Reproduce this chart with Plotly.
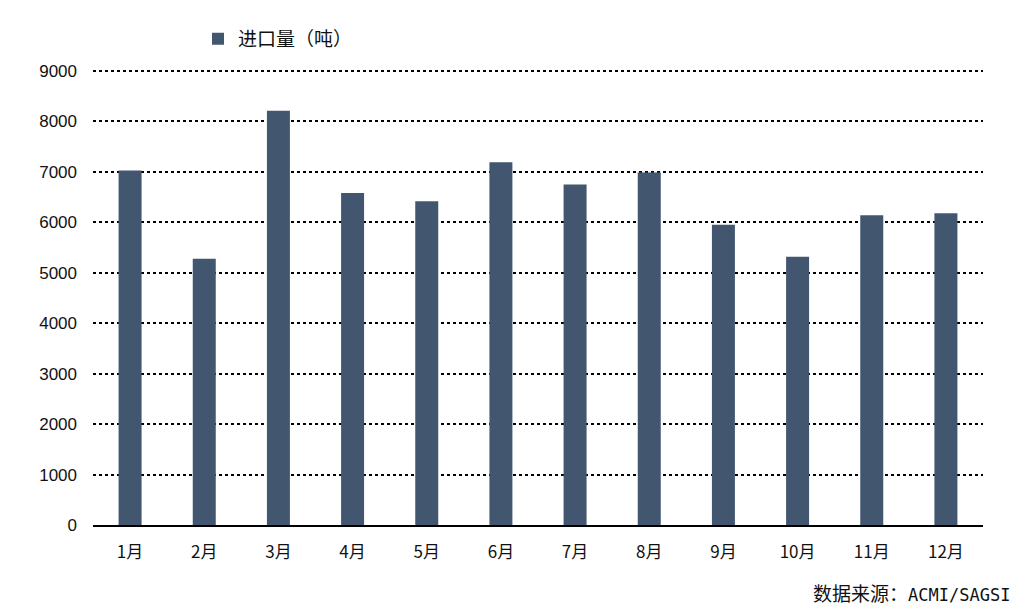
import plotly.graph_objects as go

months = ["1月", "2月", "3月", "4月", "5月", "6月", "7月", "8月", "9月", "10月", "11月", "12月"]
imports_t = [7030, 5280, 8210, 6580, 6420, 7190, 6750, 6990, 5950, 5320, 6140, 6180]
series_name = "进口量（吨）"
y_ticks = [0, 1000, 2000, 3000, 4000, 5000, 6000, 7000, 8000, 9000]
source_cn = "数据来源："
source_en = "ACMI/SAGSI"

fig = go.Figure()
fig.add_trace(go.Bar(
    x=months, y=imports_t, name=series_name,
    marker=dict(color="#43566f", line=dict(width=0)),
    width=0.31,
))

fig.update_layout(
    width=1008, height=600,
    margin=dict(l=85, r=33, t=58, b=83),
    paper_bgcolor="white", plot_bgcolor="white",
    showlegend=True,
    legend=dict(orientation="h", x=0.118, y=1.066, xanchor="left", yanchor="middle",
                font=dict(family="Noto Sans CJK SC", size=19, color="#111"),
                bgcolor="rgba(0,0,0,0)"),
    font=dict(family="Arial, Liberation Sans", color="#111"),
)
fig.update_yaxes(
    range=[0, 9040], tickvals=y_ticks, ticktext=[str(v) for v in y_ticks],
    showgrid=True, gridcolor="black", griddash="dot", gridwidth=2,
    zeroline=False, showline=False, ticks="",
    tickfont=dict(family="Arial, Liberation Sans", size=17, color="#111"),
    ticklabelstandoff=15,
)
fig.update_xaxes(
    showline=True, linecolor="black", linewidth=2, ticks="",
    tickfont=dict(family="Noto Sans CJK SC", size=17, color="#111"),
    ticklabelstandoff=11,
)
fig.add_annotation(
    text=(f"<span style='font-family:Noto Sans CJK SC;font-size:19px'>{source_cn}</span>"
          f"<span style='font-family:DejaVu Sans Mono;font-size:17px'>{source_en}</span>"),
    xref="paper", yref="paper",
    x=1.0326, y=-0.148, xanchor="right", yanchor="middle",
    showarrow=False, font=dict(color="#111"))

fig.write_html("out.html")
